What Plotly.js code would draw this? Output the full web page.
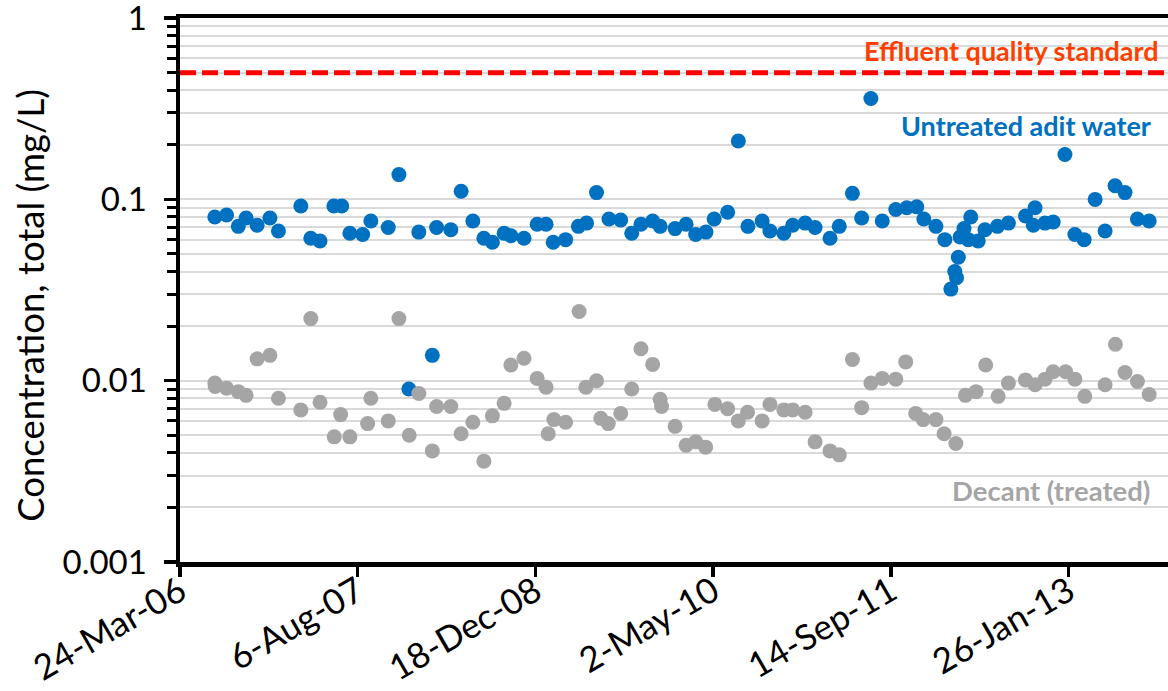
<!DOCTYPE html>
<html>
<head>
<meta charset="utf-8">
<script src="https://cdn.plot.ly/plotly-3.0.1.min.js"></script>
<style>
  html, body { margin: 0; padding: 0; background: #ffffff; }
  #chart { width: 1168px; height: 691px; }
</style>
</head>
<body>
<div id="chart"></div>
<script>
// Total concentration (mg/L) of untreated adit water and treated decant
const untreatedDates = [
  '2006-06-30','2006-08-02','2006-09-04','2006-09-26','2006-10-27','2006-12-02','2006-12-26',
  '2007-02-27','2007-03-27','2007-04-22','2007-05-31','2007-06-22','2007-07-15','2007-08-20',
  '2007-09-12','2007-10-31','2007-11-30','2007-12-28','2008-01-25','2008-03-03','2008-03-15',
  '2008-04-24','2008-05-23','2008-06-25','2008-07-26','2008-08-19','2008-09-21','2008-10-10',
  '2008-11-16','2008-12-23','2009-01-17','2009-02-06','2009-03-13','2009-04-18','2009-05-11',
  '2009-06-08','2009-07-13','2009-08-15','2009-09-15','2009-10-11','2009-11-13','2009-12-04',
  '2010-01-15','2010-02-15','2010-03-14','2010-04-12','2010-05-05','2010-06-12','2010-07-12',
  '2010-08-08','2010-09-17','2010-10-09','2010-11-17','2010-12-12','2011-01-16','2011-02-13',
  '2011-03-27','2011-04-22','2011-05-29','2011-06-24','2011-07-20','2011-08-21','2011-09-28',
  '2011-10-29','2011-11-26','2011-12-16','2012-01-19','2012-02-13','2012-03-01','2012-03-12',
  '2012-03-17','2012-03-22','2012-03-27','2012-04-07','2012-04-19','2012-04-26','2012-05-17',
  '2012-06-05','2012-07-10','2012-08-10','2012-09-27','2012-10-19','2012-10-24','2012-11-21',
  '2012-12-14','2013-01-16','2013-02-13','2013-03-11','2013-04-11','2013-05-09','2013-06-06',
  '2013-07-04','2013-08-08','2013-09-10'
];
const untreatedConc = [
  0.080, 0.082, 0.071, 0.079, 0.072, 0.079, 0.067,
  0.092, 0.061, 0.059, 0.092, 0.092, 0.065, 0.064,
  0.076, 0.070, 0.137, 0.0090, 0.066, 0.0138, 0.070,
  0.068, 0.111, 0.076, 0.061, 0.058, 0.065, 0.063,
  0.061, 0.073, 0.073, 0.058, 0.060, 0.071, 0.074,
  0.109, 0.078, 0.077, 0.065, 0.073, 0.076, 0.071,
  0.069, 0.073, 0.064, 0.066, 0.078, 0.085, 0.21,
  0.071, 0.076, 0.067, 0.065, 0.072, 0.074, 0.070,
  0.061, 0.071, 0.108, 0.079, 0.36, 0.076, 0.088,
  0.090, 0.091, 0.078, 0.071, 0.060, 0.032, 0.040,
  0.037, 0.048, 0.062, 0.069, 0.060, 0.080, 0.059,
  0.068, 0.071, 0.074, 0.081, 0.072, 0.090, 0.074,
  0.075, 0.177, 0.064, 0.060, 0.100, 0.067, 0.119,
  0.109, 0.078, 0.076
];

const decantDates = [
  '2006-06-30','2006-07-01','2006-08-02','2006-09-04','2006-09-26','2006-10-27','2006-12-02',
  '2006-12-26','2007-02-27','2007-03-27','2007-04-22','2007-06-01','2007-06-19','2007-07-15',
  '2007-09-03','2007-09-12','2007-10-31','2007-11-30','2007-12-29','2008-01-25','2008-03-03',
  '2008-03-15','2008-04-24','2008-05-23','2008-06-25','2008-07-26','2008-08-19','2008-09-21',
  '2008-10-10','2008-11-16','2008-12-23','2009-01-17','2009-01-23','2009-02-08','2009-03-13',
  '2009-04-20','2009-05-09','2009-06-08','2009-06-20','2009-07-11','2009-08-15','2009-09-15',
  '2009-10-11','2009-11-13','2009-12-04','2009-12-08','2010-01-15','2010-02-15','2010-03-14',
  '2010-04-11','2010-05-07','2010-06-12','2010-07-12','2010-08-07','2010-09-17','2010-10-09',
  '2010-11-17','2010-12-12','2011-01-16','2011-02-13','2011-03-27','2011-04-22','2011-05-29',
  '2011-06-24','2011-07-20','2011-08-21','2011-09-28','2011-10-26','2011-11-23','2011-12-14',
  '2012-01-19','2012-02-11','2012-03-15','2012-04-11','2012-05-11','2012-06-07','2012-07-12',
  '2012-08-10','2012-09-27','2012-10-24','2012-11-21','2012-12-14','2013-01-18','2013-02-13',
  '2013-03-13','2013-05-09','2013-06-07','2013-07-04','2013-08-08','2013-09-10'
];
const decantConc = [
  0.0097, 0.0093, 0.0091, 0.0087, 0.0083, 0.0132, 0.0138,
  0.0080, 0.0069, 0.022, 0.0076, 0.0049, 0.0065, 0.0049,
  0.0058, 0.0080, 0.0060, 0.022, 0.0050, 0.0085, 0.0041,
  0.0072, 0.0072, 0.0051, 0.0059, 0.0036, 0.0064, 0.0075,
  0.0122, 0.0133, 0.0103, 0.0092, 0.0051, 0.0061, 0.0059,
  0.0241, 0.0092, 0.0100, 0.0062, 0.0058, 0.0066, 0.0090,
  0.0150, 0.0123, 0.0079, 0.0072, 0.0056, 0.0044, 0.0046,
  0.0043, 0.0074, 0.0070, 0.0060, 0.0067, 0.0060, 0.0074,
  0.0069, 0.0069, 0.0067, 0.0046, 0.0041, 0.0039, 0.0131,
  0.0071, 0.0097, 0.0103, 0.0102, 0.0127, 0.0066, 0.0061,
  0.0061, 0.0051, 0.0045, 0.0083, 0.0087, 0.0122, 0.0082,
  0.0097, 0.0101, 0.0095, 0.0102, 0.0112, 0.0112, 0.0102,
  0.0082, 0.0095, 0.0159, 0.0111, 0.0099, 0.0084
];

// Effluent quality standard (mg/L)
const effluentStandard = 0.5;

// Axis extents and labels
const dateStart = '2006-03-24';
const dateEnd = '2013-11-02';
const tickStepDays = 500;
const yTickVals = [0.001, 0.01, 0.1, 1];
const yTickText = ['0.001', '0.01', '0.1', '1'];

// Minor gridlines at 2..9 within each decade
const minorVals = [];
for (let p = -3; p < 0; p++) {
  for (let k = 2; k <= 9; k++) minorVals.push(k * Math.pow(10, p));
}

const FONT = 'Lato, "Open Sans", "Noto Sans", sans-serif';
const BLUE = '#0070C0';
const GREY = '#A5A5A5';

const traces = [
  {
    type: 'scatter', mode: 'lines',
    x: [dateStart, dateEnd], y: [effluentStandard, effluentStandard],
    line: { color: '#FF0000', width: 5, dash: '16px,6px' },
    hoverinfo: 'skip', name: 'Effluent quality standard'
  },
  {
    type: 'scatter', mode: 'markers',
    x: untreatedDates, y: untreatedConc,
    marker: { color: BLUE, size: 15 },
    name: 'Untreated adit water'
  },
  {
    type: 'scatter', mode: 'markers',
    x: decantDates, y: decantConc,
    marker: { color: GREY, size: 15 },
    name: 'Decant (treated)'
  }
];

const layout = {
  width: 1168, height: 691,
  margin: { l: 180, r: 0, t: 18, b: 129, pad: 0 },
  paper_bgcolor: '#ffffff', plot_bgcolor: '#ffffff',
  font: { family: FONT, color: '#000000', size: 32 },
  showlegend: false,
  xaxis: {
    type: 'date',
    range: [dateStart, dateEnd],
    tick0: dateStart, dtick: tickStepDays * 86400000,
    tickformat: '%-d-%b-%y', tickangle: -30,
    ticks: 'outside', ticklen: 10, tickwidth: 3.5, tickcolor: '#000000',
    ticklabelstandoff: -19, ticklabeloverflow: 'allow',
    showline: true, linewidth: 4.5, linecolor: '#000000', mirror: true,
    showgrid: false, zeroline: false,
    tickfont: { family: FONT, size: 35, color: '#000000' }
  },
  yaxis: {
    type: 'log', range: [-3, 0.0006],
    tickmode: 'array', tickvals: yTickVals, ticktext: yTickText,
    ticks: 'outside', ticklen: 12, tickwidth: 3.5, tickcolor: '#000000',
    ticklabelstandoff: 10, ticklabeloverflow: 'allow',
    showline: true, linewidth: 4.5, linecolor: '#000000',
    showgrid: true, gridcolor: '#D9D9D9', gridwidth: 2,
    zeroline: false,
    minor: {
      tickmode: 'array', tickvals: minorVals,
      ticks: 'outside', ticklen: 9, tickwidth: 3, tickcolor: '#000000',
      showgrid: true, gridcolor: '#D9D9D9', gridwidth: 2
    },
    tickfont: { family: FONT, size: 33, color: '#000000' }
  },
  annotations: [
    {
      xref: 'paper', yref: 'paper', x: -0.1518, y: 0.471, xanchor: 'center', yanchor: 'middle',
      text: 'Concentration, total (mg/L)', textangle: -90, showarrow: false,
      font: { family: FONT, size: 36.5, color: '#000000' }
    },
    {
      xref: 'paper', yref: 'paper', x: 0.992, y: 0.941, xanchor: 'right', yanchor: 'middle',
      text: '<b>Effluent quality standard</b>', showarrow: false,
      font: { family: FONT, size: 27, color: '#FF3F00' }
    },
    {
      xref: 'paper', yref: 'paper', x: 0.985, y: 0.803, xanchor: 'right', yanchor: 'middle',
      text: '<b>Untreated adit water</b>', showarrow: false,
      font: { family: FONT, size: 27, color: BLUE }
    },
    {
      xref: 'paper', yref: 'paper', x: 0.984, y: 0.132, xanchor: 'right', yanchor: 'middle',
      text: '<b>Decant (treated)</b>', showarrow: false,
      font: { family: FONT, size: 27.5, color: GREY }
    }
  ]
};

Plotly.newPlot('chart', traces, layout, { displayModeBar: false, staticPlot: true });
</script>
</body>
</html>
